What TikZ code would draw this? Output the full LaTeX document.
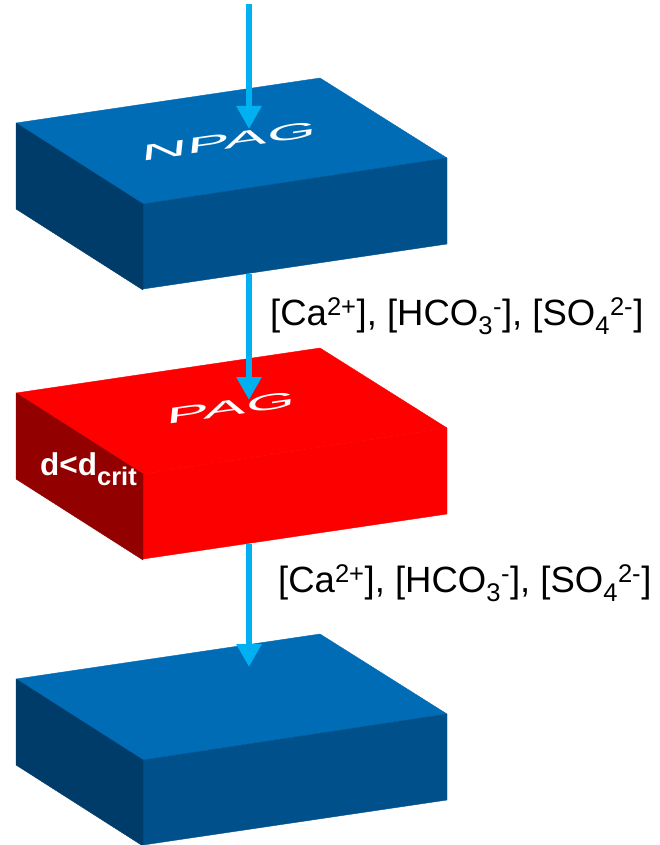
\documentclass[tikz,border=0pt]{standalone}
\usepackage{fontspec}
\setmainfont{Liberation Sans}
\usetikzlibrary{arrows.meta}
\definecolor{bluetop}{HTML}{006CB5}
\definecolor{bluefront}{HTML}{00508C}
\definecolor{blueside}{HTML}{003C69}
\definecolor{redtop}{HTML}{FF0000}
\definecolor{redfront}{HTML}{FC0000}
\definecolor{redside}{HTML}{930000}
\definecolor{flowcyan}{HTML}{00B0F0}

\begin{document}
\begin{tikzpicture}[
  x=1pt, y=-1pt,
  face/.style={line width=0.4pt, line join=round},
  flow/.style={draw=flowcyan, line width=6pt,
    -{Triangle[length=23pt,width=24pt]}},
  ion/.style={font=\fontsize{36.5}{40}\selectfont, anchor=base west, inner sep=0pt},
  tag/.style={text=white, font=\fontsize{40}{44}\selectfont, inner sep=0pt,
    rotate=8, xslant=0.25, xscale=1.6, yscale=0.55},
]
  \useasboundingbox (0,0) rectangle (660,845);

  % Slabs
  \foreach \y/\name/\tc/\fc/\sc in {123/npag/bluetop/bluefront/blueside,
      393/pag/redtop/redfront/redside, 679/base/bluetop/bluefront/blueside} {
    \coordinate (\name-l) at (16,\y);
    \coordinate (\name-b) at (320,\y-45);
    \coordinate (\name-r) at (447,\y+35);
    \coordinate (\name-f) at (143,\y+81);
    \filldraw[face, fill=\tc, draw=\tc] (\name-l) -- (\name-b) -- (\name-r) -- (\name-f) -- cycle;
    \filldraw[face, fill=\fc, draw=\fc] (\name-f) -- (\name-r) -- ++(0,86) -- ++(-304,45) -- cycle;
    \filldraw[face, fill=\sc, draw=\sc] (\name-l) -- (\name-f) -- ++(0,86) -- ++(-127,-81) -- cycle;
  }

  % Slab labels
  \node[tag] (npag-tag) at (229,141) {NPAG};
  \node[tag] (pag-tag) at (231,408) {PAG};
  \node[text=white, anchor=base west, inner sep=0pt,
    font=\fontsize{31.5}{34}\selectfont\bfseries] (pag-depth) at (40,475)
    {d<d\raisebox{-10pt}{\fontsize{25.5}{28}\selectfont crit}};

  % Flow
  \coordinate (inflow) at (249,4);
  \coordinate (npag-in) at (249,129);
  \coordinate (npag-out) at (249,274);
  \coordinate (pag-in) at (249,400);
  \coordinate (pag-out) at (249,544);
  \coordinate (base-in) at (249,667);
  \draw[flow] (inflow) -- (npag-in);
  \draw[flow] (npag-out) -- (pag-in);
  \draw[flow] (pag-out) -- (base-in);

  % Solutes
  \node[ion] (ions-upper) at (270,325)
    {[Ca\textsuperscript{2+}], [HCO\textsubscript{3}\textsuperscript{-}], [SO\textsubscript{4}\textsuperscript{2-}]};
  \node[ion] (ions-lower) at (278,592)
    {[Ca\textsuperscript{2+}], [HCO\textsubscript{3}\textsuperscript{-}], [SO\textsubscript{4}\textsuperscript{2-}]};
\end{tikzpicture}
\end{document}
